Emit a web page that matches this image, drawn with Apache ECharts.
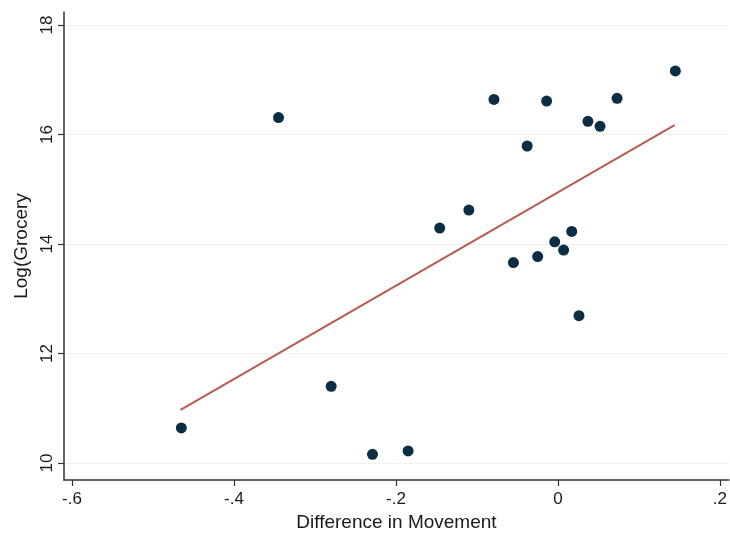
<!DOCTYPE html>
<html>
<head>
<meta charset="utf-8">
<script src="https://cdn.jsdelivr.net/npm/echarts@6/dist/echarts.min.js"></script>
<style>
html,body{margin:0;padding:0;background:#ffffff;}
#chart{width:730px;height:540px;}
</style>
</head>
<body>
<div id="chart"></div>
<script>
// Difference in Movement (x) vs Log(Grocery) (y)
var diffMovement = [-0.465, -0.345, -0.280, -0.229, -0.185, -0.146, -0.110, -0.079, -0.055, -0.038,
                    -0.025, -0.014, -0.004, 0.007, 0.017, 0.026, 0.037, 0.052, 0.073, 0.145];
var logGrocery   = [10.64, 16.31, 11.40, 10.16, 10.22, 14.29, 14.62, 16.64, 13.66, 15.79,
                    13.77, 16.61, 14.04, 13.89, 14.23, 12.69, 16.24, 16.15, 16.66, 17.16];
// fitted line endpoints
var fitX = [-0.466, 0.144];
var fitY = [10.97, 16.17];
// tick values & labels
var xTicks = [-0.6, -0.4, -0.2, 0, 0.2];
var xTickLabels = ['-.6', '-.4', '-.2', '0', '.2'];
var yTicks = [10, 12, 14, 16, 18];
var yTickLabels = ['10', '12', '14', '16', '18'];

var points = diffMovement.map(function (x, i) { return [x, logGrocery[i]]; });
var fitLine = fitX.map(function (x, i) { return [x, fitY[i]]; });

var font = 'Liberation Sans, Arial, Helvetica, sans-serif';
var chart = echarts.init(document.getElementById('chart'), null, {renderer: 'canvas'});
chart.setOption({
  backgroundColor: '#ffffff',
  animation: false,
  grid: {left: 64, right: 0, top: 12, bottom: 60},
  xAxis: {
    type: 'value',
    min: -0.6099, max: 0.2111,
    name: 'Difference in Movement',
    nameLocation: 'middle',
    nameGap: 32,
    nameTextStyle: {fontFamily: font, fontSize: 19, color: '#1a1a1a'},
    axisLine: {show: true, onZero: false, lineStyle: {color: '#333', width: 1.5}},
    axisTick: {show: true, inside: false, length: 6, customValues: xTicks, lineStyle: {color: '#333', width: 1.2}},
    axisLabel: {
      customValues: xTicks, margin: 11, fontFamily: font, fontSize: 17, color: '#1a1a1a',
      formatter: function (v) { var i = xTicks.indexOf(v); return i >= 0 ? xTickLabels[i] : ''; }
    },
    splitLine: {show: false}
  },
  yAxis: {
    type: 'value',
    min: 9.69, max: 18.237,
    name: 'Log(Grocery',
    nameLocation: 'middle',
    nameGap: 30,
    nameRotate: 90,
    nameTextStyle: {fontFamily: font, fontSize: 19, color: '#1a1a1a'},
    axisLine: {show: true, onZero: false, lineStyle: {color: '#333', width: 1.5}},
    axisTick: {show: true, inside: false, length: 6, customValues: yTicks, lineStyle: {color: '#333', width: 1.2}},
    axisLabel: {
      customValues: yTicks, rotate: 90, margin: 8, fontFamily: font, fontSize: 17, color: '#1a1a1a',
      formatter: function (v) { var i = yTicks.indexOf(v); return i >= 0 ? yTickLabels[i] : ''; }
    },
    splitLine: {show: true, lineStyle: {color: '#f0f0f0', width: 1}}
  },
  series: [
    {
      type: 'line',
      data: fitLine,
      symbol: 'none',
      lineStyle: {color: '#b95a52', width: 2},
      z: 2
    },
    {
      type: 'scatter',
      data: points,
      symbol: 'circle',
      symbolSize: 11,
      itemStyle: {color: '#0b2e45', opacity: 1},
      z: 3
    }
  ]
});
</script>
</body>
</html>
